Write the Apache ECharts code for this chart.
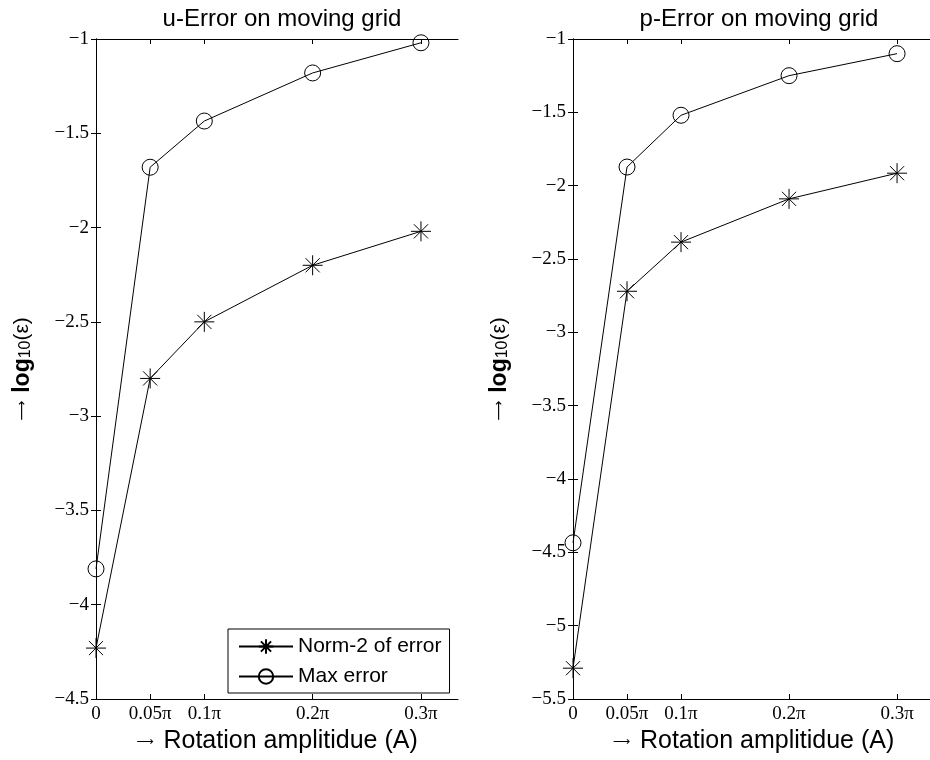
<!DOCTYPE html>
<html>
<head>
<meta charset="utf-8">
<script src="https://cdn.jsdelivr.net/npm/echarts@6/dist/echarts.min.js"></script>
<style>html,body{margin:0;padding:0;background:#fff}#c{width:930px;height:760px}</style>
</head>
<body>
<div id="c"></div>
<script>
// amplitude A in units of pi
const xPi = [0, 0.05, 0.1, 0.2, 0.3];
const xTickLabels = ['0', '0.05\u03c0', '0.1\u03c0', '0.2\u03c0', '0.3\u03c0'];
const seriesNames = ['Norm-2 of error', 'Max error'];
const titles = ['u-Error on moving grid', 'p-Error on moving grid'];
// log10 of errors
const uNorm2 = [-4.23, -2.80, -2.50, -2.20, -2.02];
const uMax = [-3.81, -1.68, -1.435, -1.18, -1.02];
const pNorm2 = [-5.29, -2.72, -2.385, -2.09, -1.915];
const pMax = [-4.435, -1.873, -1.52, -1.25, -1.10];
const yRangeU = [-4.5, -1];
const yRangeP = [-5.5, -1];

const chart = echarts.init(document.getElementById('c'), null, {renderer: 'canvas'});
const serif = 'Liberation Serif';
const sans = 'Liberation Sans';
const XMAX = 0.3342;
const ASTER = 'path://M10 0 L10 20 M0 10 L20 10 M2.93 2.93 L17.07 17.07 M2.93 17.07 L17.07 2.93';

function pairXY(ys) { return xPi.map((x, i) => [x, ys[i]]); }
function fmtX(v) {
  const i = xPi.findIndex(x => Math.abs(x - v) < 1e-9);
  return i >= 0 ? xTickLabels[i] : '';
}
function fmtY(v) {
  return (v < 0 ? '\u2212' : '') + String(Math.abs(Math.round(v * 100) / 100));
}
const axLine = {show: true, lineStyle: {color: '#000', width: 1}};

function xAxes(gi) {
  const base = {
    type: 'value', gridIndex: gi, min: 0, max: XMAX,
    axisLine: axLine, splitLine: {show: false},
    axisTick: {show: true, inside: true, length: 5, customValues: xPi, lineStyle: {color: '#000'}},
  };
  return [
    Object.assign({}, base, {
      position: 'bottom',
      axisLabel: {show: true, customValues: xPi, formatter: fmtX, color: '#000', fontFamily: serif, fontSize: 19, margin: 6},
      name: '{a|\u27f6}{b|Rotation amplitidue (A)}',
      nameLocation: 'middle', nameGap: 30,
      nameTextStyle: {rich: {
        a: {fontFamily: 'DejaVu Sans', fontSize: 12, fontWeight: 'normal', color: '#000', padding: [0, 10, 0, 0]},
        b: {fontFamily: sans, fontSize: 25, color: '#000'}
      }}
    }),
    Object.assign({}, base, {position: 'top', axisLabel: {show: false}})
  ];
}
function yAxes(gi, range) {
  const base = {
    type: 'value', gridIndex: gi, min: range[0], max: range[1], interval: 0.5,
    axisLine: axLine, splitLine: {show: false},
    axisTick: {show: true, inside: true, length: 5, lineStyle: {color: '#000'}},
  };
  return [
    Object.assign({}, base, {
      position: 'left',
      axisLabel: {show: true, formatter: fmtY, color: '#000', fontFamily: serif, fontSize: 19, margin: 7},
      name: '{a|\u27f6}{b|log}{c|10}{d|(\u03b5)}',
      nameLocation: 'middle', nameRotate: 90, nameGap: 62,
      nameTextStyle: {rich: {
        a: {fontFamily: 'DejaVu Sans', fontSize: 14, fontWeight: 'normal', color: '#000', padding: [0, 8, 0, 0]},
        b: {fontFamily: sans, fontSize: 23, fontWeight: 'bold', color: '#000'},
        c: {fontFamily: sans, fontSize: 16, color: '#000', verticalAlign: 'bottom', lineHeight: 2},
        d: {fontFamily: sans, fontSize: 21, color: '#000'}
      }}
    }),
    Object.assign({}, base, {position: 'right', axisLabel: {show: false}})
  ];
}

function mkSeries(name, ys, xi, isStar) {
  return {
    name: name, type: 'line', xAxisIndex: xi, yAxisIndex: xi,
    data: pairXY(ys),
    symbol: isStar ? ASTER : 'circle',
    symbolSize: isStar ? 20 : 16,
    showSymbol: true,
    lineStyle: {color: '#000', width: 1},
    itemStyle: {color: 'transparent', borderColor: '#000', borderWidth: 1},
    emphasis: {disabled: true},
    animation: false,
    z: 3
  };
}

const option = {
  backgroundColor: '#fff',
  animation: false,
  title: [
    {text: titles[0], left: 277, top: 2, textAlign: 'center', textStyle: {fontFamily: sans, fontSize: 24, fontWeight: 'normal', color: '#000'}},
    {text: titles[1], left: 754, top: 2, textAlign: 'center', textStyle: {fontFamily: sans, fontSize: 24, fontWeight: 'normal', color: '#000'}}
  ],
  grid: [
    {left: 96, top: 39, width: 362, height: 660, containLabel: false, outerBoundsMode: 'none'},
    {left: 573, top: 39, width: 361, height: 660, containLabel: false, outerBoundsMode: 'none'}
  ],
  xAxis: xAxes(0).concat(xAxes(1)),
  yAxis: yAxes(0, yRangeU).concat(yAxes(1, yRangeP)),
  legend: {
    data: seriesNames, orient: 'vertical', left: 228, top: 629,
    itemWidth: 54, itemHeight: 18, itemGap: 9,
    backgroundColor: '#fff', borderColor: '#000', borderWidth: 1, borderRadius: 0,
    padding: [7, 8, 6, 10], selectedMode: false,
    textStyle: {fontFamily: sans, fontSize: 21, lineHeight: 20, color: '#000'}
  },
  series: [
    mkSeries(seriesNames[0], uNorm2, 0, true),
    mkSeries(seriesNames[1], uMax, 0, false),
    mkSeries(seriesNames[0], pNorm2, 2, true),
    mkSeries(seriesNames[1], pMax, 2, false)
  ]
};
chart.setOption(option);
</script>
</body>
</html>
